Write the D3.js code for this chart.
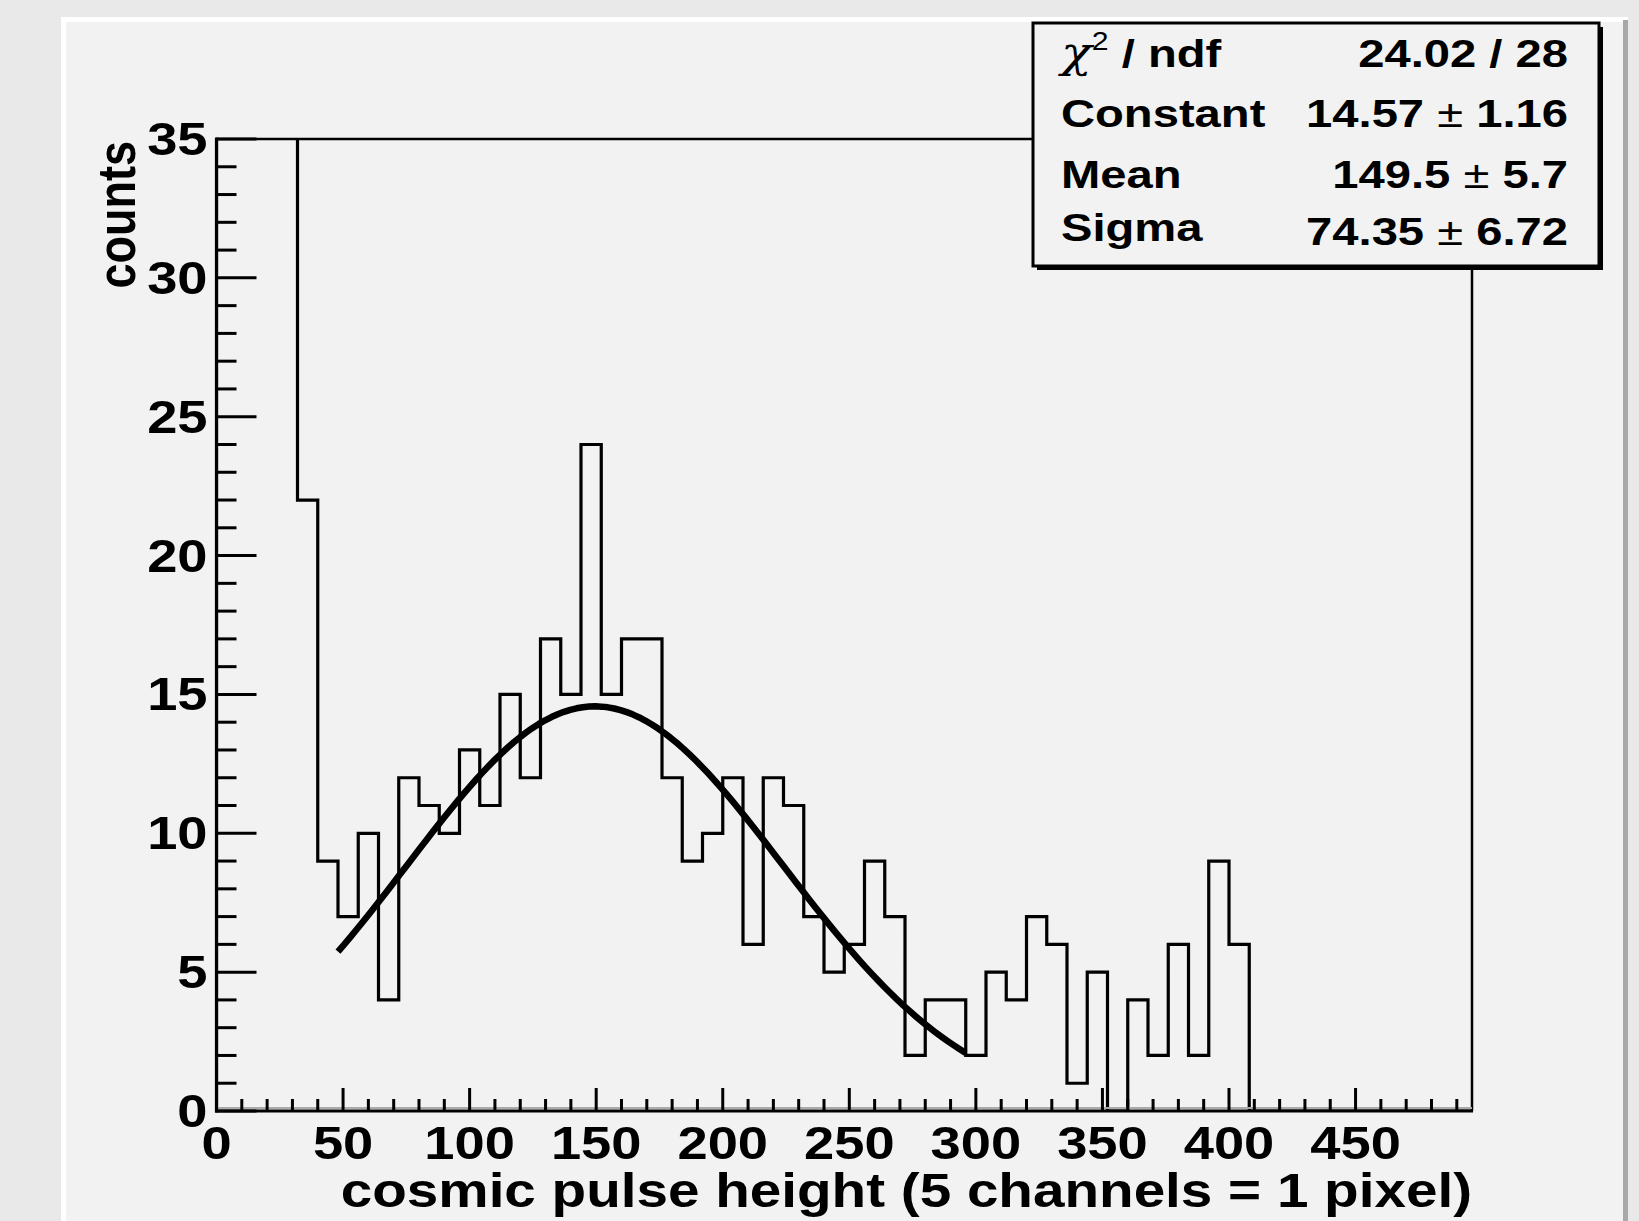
<!DOCTYPE html>
<meta charset="utf-8">
<style>
  body { margin: 0; background: #e9e9e9; }
  svg { display: block; font-family: "Liberation Sans", Arial, sans-serif; font-weight: bold; }
</style>
<body>
<script src="https://d3js.org/d3.v7.min.js"></script>
<script>

// histogram, 8 channels per bin starting at 0 (first four bins run off the top of the frame)
var binWidth = 8;
var counts = [40, 40, 40, 40, 22, 9, 7, 10, 4, 12, 11, 10, 13, 11, 15, 12,
              17, 15, 24, 15, 17, 17, 12, 9, 10, 12, 6, 12, 11, 7, 5, 6,
              9, 7, 2, 4, 4, 2, 5, 4, 7, 6, 1, 5, 0, 4, 2, 6,
              2, 9, 6, 0, 0, 0, 0, 0, 0, 0, 0, 0, 0, 0];

// gaus fit, as printed in the stats box
var fitRange = [48, 296];
var fitConstant = 14.57, fitMean = 149.5, fitSigma = 74.35;

var statLabels = ["ndf", "Constant", "Mean", "Sigma"];
var statValues = ["24.02 / 28", "14.57 \u00b1 1.16", "149.5 \u00b1 5.7", "74.35 \u00b1 6.72"];

var xTicks = [0, 50, 100, 150, 200, 250, 300, 350, 400, 450];
var yTicks = [0, 5, 10, 15, 20, 25, 30, 35];

var width = 1639, height = 1221;
var frame = {left: 216.5, right: 1472, top: 139, bottom: 1111};
var sx = 1.18; // the picture is stretched sideways, so is its text

var x = d3.scaleLinear().domain([0, binWidth * counts.length]).range([frame.left, frame.right]);
var y = d3.scaleLinear().domain([0, 35]).range([frame.bottom, frame.top]);

var svg = d3.select("body").append("svg")
    .attr("width", width)
    .attr("height", height);

// canvas + pad with bevel
svg.append("rect").attr("width", width).attr("height", height).attr("fill", "#e9e9e9");
svg.append("rect").attr("x", 61).attr("y", 17).attr("width", 1567).attr("height", 1230).attr("fill", "#f2f2f2");
svg.append("rect").attr("x", 61).attr("y", 17).attr("width", 1567).attr("height", 5).attr("fill", "#ffffff");
svg.append("rect").attr("x", 61).attr("y", 17).attr("width", 5).attr("height", 1230).attr("fill", "#ffffff");
svg.append("rect").attr("x", 1623).attr("y", 20).attr("width", 5).attr("height", 1230).attr("fill", "#a8a8a8");

svg.append("clipPath").attr("id", "clip")
  .append("rect")
    .attr("x", frame.left).attr("y", frame.top)
    .attr("width", frame.right - frame.left).attr("height", frame.bottom - frame.top);

// histogram outline
var pts = [[0, 0]];
counts.forEach(function(c, i) {
  pts.push([i * binWidth, c]);
  pts.push([(i + 1) * binWidth, c]);
});
pts.push([binWidth * counts.length, 0]);

var line = d3.line().x(function(d) { return x(d[0]); }).y(function(d) { return y(d[1]); });

svg.append("path")
    .attr("clip-path", "url(#clip)")
    .attr("d", line(pts))
    .attr("fill", "none")
    .attr("stroke", "#000")
    .attr("stroke-width", 3.2);

// fit function
var fx = d3.range(101).map(function(i) { return fitRange[0] + (fitRange[1] - fitRange[0]) * i / 100; });
var fit = fx.map(function(v) {
  var t = (v - fitMean) / fitSigma;
  return [v, fitConstant * Math.exp(-0.5 * t * t)];
});
svg.append("path")
    .attr("d", line(fit))
    .attr("fill", "none")
    .attr("stroke", "#000")
    .attr("stroke-width", 6.5)
    .attr("stroke-linejoin", "round");

// frame
svg.append("path")
    .attr("d", "M" + frame.left + "," + frame.top + "H" + frame.right + "V" + frame.bottom)
    .attr("fill", "none").attr("stroke", "#000").attr("stroke-width", 2.5);
svg.append("line")
    .attr("x1", frame.left).attr("x2", frame.right)
    .attr("y1", frame.bottom - 3).attr("y2", frame.bottom - 3)
    .attr("stroke", "#aaaaaa").attr("stroke-width", 2);

// y axis: ticks inside the frame
var yAxis = svg.append("g");
d3.range(0, 36).forEach(function(v) {
  var major = v % 5 === 0;
  yAxis.append("line")
      .attr("x1", frame.left).attr("x2", frame.left + (major ? 40 : 20))
      .attr("y1", y(v)).attr("y2", y(v))
      .attr("stroke", "#000").attr("stroke-width", 3);
});
yAxis.append("line")
    .attr("x1", frame.left).attr("x2", frame.left)
    .attr("y1", frame.top - 1.5).attr("y2", frame.bottom + 1.5)
    .attr("stroke", "#000").attr("stroke-width", 3.2);
yAxis.selectAll("text").data(yTicks).enter().append("text")
    .attr("transform", function(d) { return "translate(" + (frame.left - 9) + "," + (y(d) + 16) + ") scale(" + sx + ",1)"; })
    .attr("text-anchor", "end")
    .attr("font-size", 46)
    .text(function(d) { return d; });

// x axis
var xAxis = svg.append("g");
d3.range(0, 491, 10).forEach(function(v) {
  var major = v % 50 === 0;
  xAxis.append("line")
      .attr("x1", x(v)).attr("x2", x(v))
      .attr("y1", frame.bottom).attr("y2", frame.bottom - (major ? 23 : 12))
      .attr("stroke", "#000").attr("stroke-width", 3);
});
xAxis.append("line")
    .attr("x1", frame.left - 1.5).attr("x2", frame.right + 1)
    .attr("y1", frame.bottom).attr("y2", frame.bottom)
    .attr("stroke", "#000").attr("stroke-width", 3.2);
xAxis.selectAll("text").data(xTicks).enter().append("text")
    .attr("transform", function(d) { return "translate(" + x(d) + ",1159) scale(" + sx + ",1)"; })
    .attr("text-anchor", "middle")
    .attr("font-size", 46)
    .text(function(d) { return d; });

// axis titles
svg.append("text")
    .attr("transform", "translate(" + frame.right + ",1207) scale(" + sx + ",1)")
    .attr("text-anchor", "end")
    .attr("font-size", 48)
    .text("cosmic pulse height (5 channels = 1 pixel)");
svg.append("text")
    .attr("transform", "translate(135," + (frame.top + 2) + ") scale(" + sx + ",1) rotate(-90)")
    .attr("text-anchor", "end")
    .attr("font-size", 45)
    .text("counts");

// stats box
var box = {x: 1033, y: 23, w: 566, h: 243};
svg.append("rect")
    .attr("x", box.x + 4).attr("y", box.y + 4).attr("width", box.w).attr("height", box.h)
    .attr("fill", "#000");
svg.append("rect")
    .attr("x", box.x).attr("y", box.y).attr("width", box.w).attr("height", box.h)
    .attr("fill", "#f2f2f2").attr("stroke", "#000").attr("stroke-width", 3);

var rowBase = [67, 127, 188, 245];
var statSx = 1.21;
statLabels.forEach(function(s, i) {
  var t = svg.append("text")
      .attr("transform", "translate(1061," + (rowBase[i] - (i === 3 ? 4 : 0)) + ") scale(" + statSx + ",1)")
      .attr("font-size", 39);
  if (i === 0) {
    t.append("tspan").attr("font-family", "'DejaVu Serif', serif").attr("font-style", "italic").attr("font-weight", "normal").attr("font-size", 42).text("\u03c7");
    t.append("tspan").attr("font-size", 25).attr("dy", -17).attr("font-weight", "normal").text("2");
    t.append("tspan").attr("dy", 17).text(" / ");
    t.append("tspan").text(s);
  } else {
    t.text(s);
  }
});
statValues.forEach(function(s, i) {
  var t = svg.append("text")
      .attr("transform", "translate(1568," + rowBase[i] + ") scale(" + statSx + ",1)")
      .attr("text-anchor", "end")
      .attr("font-size", 39);
  var parts = s.split(" \u00b1 ");
  if (parts.length === 2) {
    t.append("tspan").text(parts[0] + " ");
    t.append("tspan").attr("font-weight", "normal").text("\u00b1");
    t.append("tspan").text(" " + parts[1]);
  } else {
    t.text(s);
  }
});

</script>
</body>
</html>
